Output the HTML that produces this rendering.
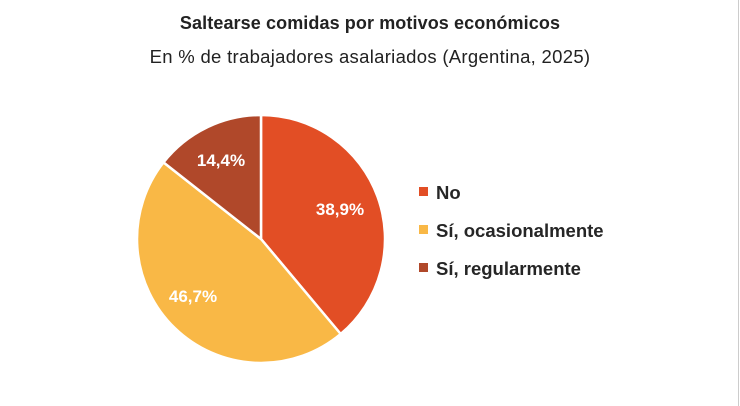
<!DOCTYPE html>
<html><head><meta charset="utf-8"><style>
body{margin:0;background:#fff;}
.w{position:relative;width:740px;height:406px;overflow:hidden;background:#fff;font-family:"Liberation Sans",sans-serif;}
.t{position:absolute;left:0;width:740px;text-align:center;color:#222;}
</style></head><body><div class="w">
<div class="t" style="top:13px;font-size:18px;font-weight:bold;letter-spacing:0.1px;">Saltearse comidas por motivos económicos</div>
<div class="t" style="top:46px;font-size:18.5px;letter-spacing:0.3px;">En % de trabajadores asalariados (Argentina, 2025)</div>
<svg width="740" height="406" style="position:absolute;left:0;top:0">
<g stroke="#fff" stroke-width="2.5" stroke-linejoin="round">
<path d="M261,239 L261,115 A124,124 0 0 1 340.7,334 Z" fill="#E24E25"/>
<path d="M261,239 L340.7,334 A124,124 0 0 1 163.5,162.4 Z" fill="#F9B846"/>
<path d="M261,239 L163.5,162.4 A124,124 0 0 1 261,115 Z" fill="#B0482A"/>
</g>
<g fill="#fff" font-family="Liberation Sans,sans-serif" font-weight="bold" font-size="17" text-anchor="middle">
<text x="340" y="215">38,9%</text>
<text x="221" y="166">14,4%</text>
<text x="193" y="302">46,7%</text>
</g>
<rect x="419" y="187" width="9" height="9" fill="#E24E25"/>
<rect x="419" y="225" width="9" height="9" fill="#F9B846"/>
<rect x="419" y="263" width="9" height="9" fill="#B0482A"/>
<g fill="#262626" font-family="Liberation Sans,sans-serif" font-weight="bold" font-size="18.5">
<text x="436" y="199">No</text>
<text x="436" y="237">Sí, ocasionalmente</text>
<text x="436" y="275">Sí, regularmente</text>
</g>
<line x1="738.5" y1="0" x2="738.5" y2="406" stroke="#ccc" stroke-width="1"/>
</svg>
</div></body></html>
